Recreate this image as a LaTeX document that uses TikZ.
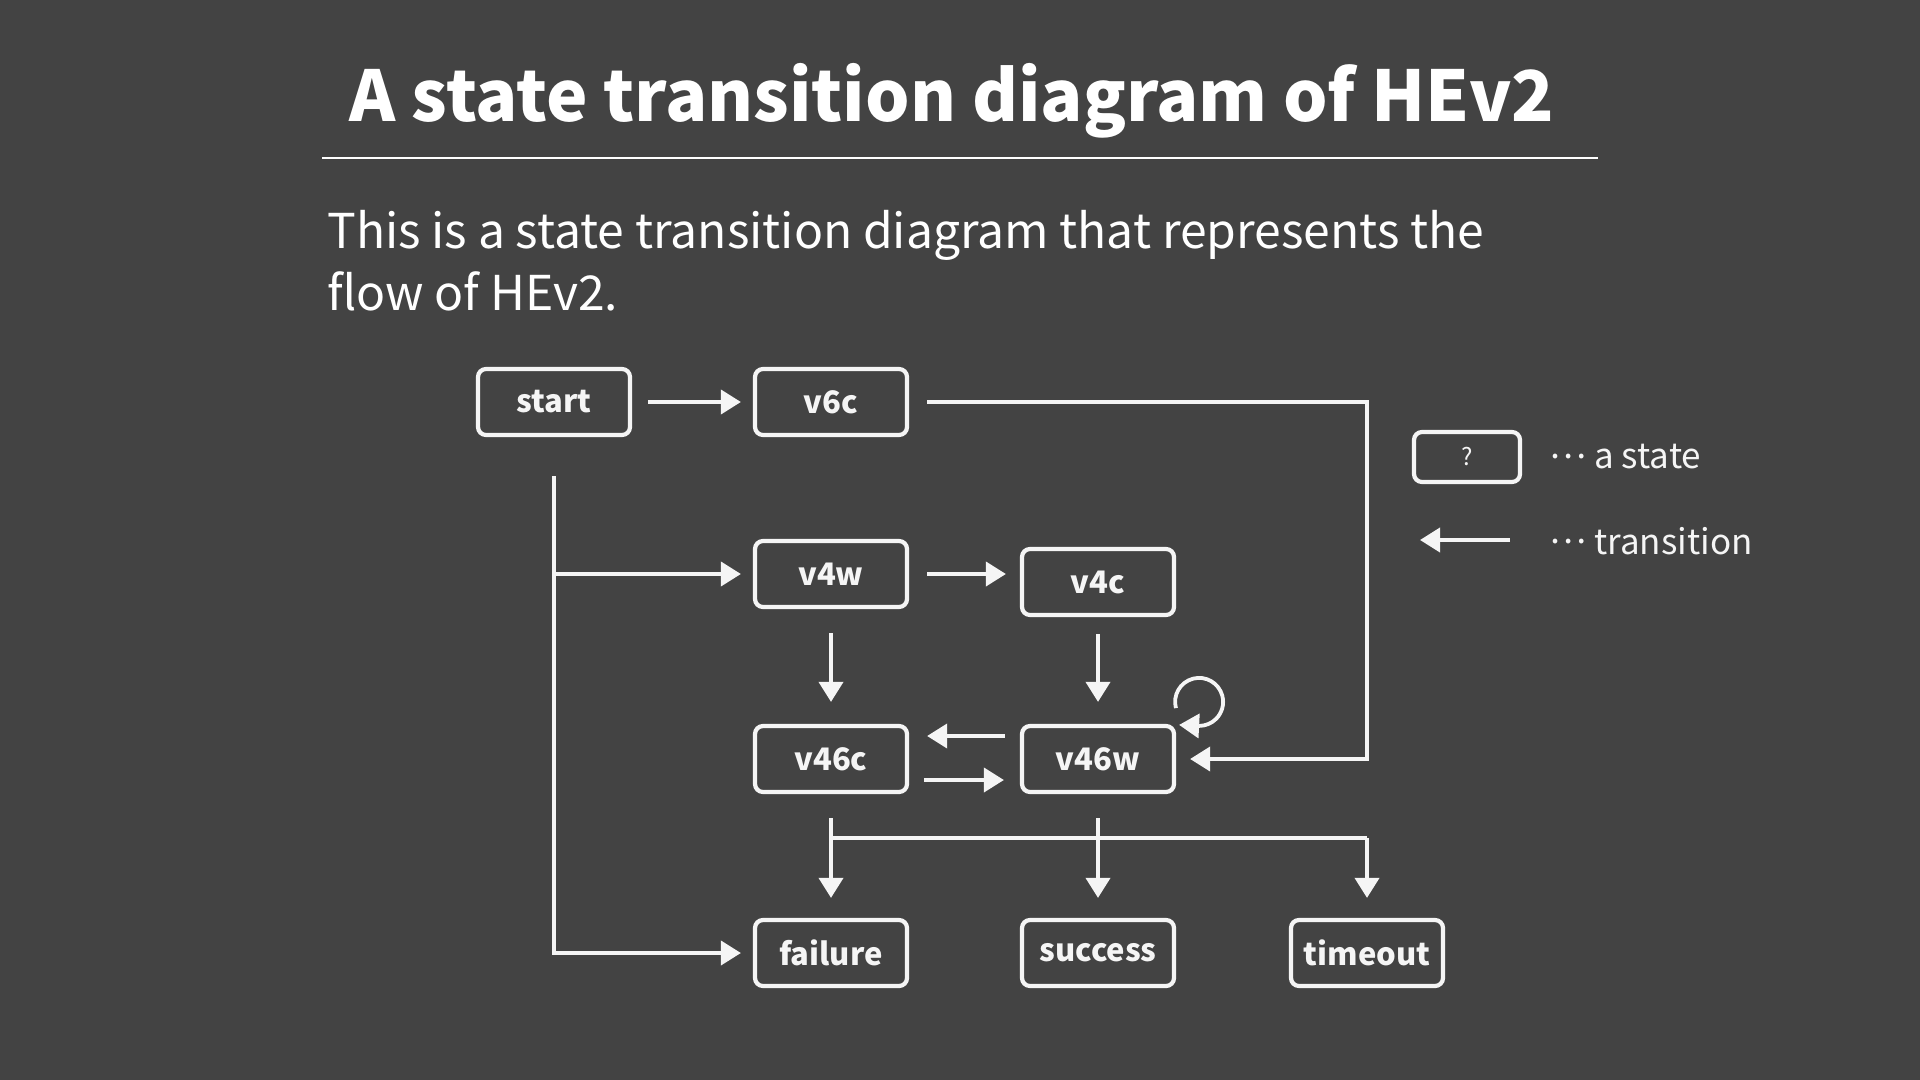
\documentclass[tikz,border=0pt]{standalone}
\usepackage{fontspec}
\setmainfont{Noto Sans CJK JP}
\usetikzlibrary{arrows.meta}
\definecolor{bg}{RGB}{67,67,67}
\definecolor{chalk}{RGB}{245,245,245}
\newcommand{\middots}{\raisebox{0.3em}{…}}
\begin{document}
\begin{tikzpicture}[x=0.5pt,y=-0.5pt,
  statebox/.style={draw=chalk, line width=2.1pt, rounded corners=4pt, minimum width=76pt, minimum height=33pt, text=chalk, font=\fontsize{15.5}{18}\selectfont\bfseries, inner sep=0pt},
  conn/.style={draw=chalk, line width=1.9pt},
  arr/.style={conn, -{Triangle[length=10pt,width=12pt]}},
  legtext/.style={text=chalk, anchor=west, font=\fontsize{17.5}{20}\selectfont, inner sep=0pt},
]
\fill[bg] (0,0) rectangle (1920,1080);
\useasboundingbox (0,0) rectangle (1920,1080);

% title and text
\node[text=white, anchor=base, inner sep=0pt, font=\fontsize{35}{40}\selectfont\bfseries] (title) at (952,122) {A state transition diagram of HEv2};
\draw[white, line width=1pt] (322,158) -- (1598,158);
\node[text=white, anchor=base west, inner sep=0pt, font=\fontsize{24}{31}\selectfont] (para1) at (327,249) {This is a state transition diagram that represents the};
\node[text=white, anchor=base west, inner sep=0pt, font=\fontsize{24}{31}\selectfont] (para2) at (327,311) {flow of HEv2.};

% states
\node[statebox] (start) at (554,402) {start};
\node[statebox] (v6c) at (831,402) {v6c};
\node[statebox] (v4w) at (831,574) {v4w};
\node[statebox] (v4c) at (1098,582) {v4c};
\node[statebox] (v46c) at (831,759) {v46c};
\node[statebox] (v46w) at (1098,759) {v46w};
\node[statebox] (failure) at (831,953) {failure};
\node[statebox] (success) at (1098,953) {success};
\node[statebox] (timeout) at (1367,953) {timeout};

% transitions
\draw[arr, shorten <=8pt, shorten >=6pt] (start.east) -- (v6c.west);
\draw[arr, shorten <=9pt, shorten >=7pt] (v6c.east) -- (v6c.east -| timeout) |- (v46w.east);
\coordinate (jv) at ([yshift=-19.5pt]start.south);
\draw[arr, shorten >=6pt] (jv) |- (failure.west);
\draw[arr, shorten >=6pt] (jv |- v4w.west) -- (v4w.west);
\draw[arr, shorten <=9pt, shorten >=7pt] (v4w.east) -- (v4w.east -| v4c.west);
\draw[arr, shorten <=12pt, shorten >=11pt] (v4w.south) -- (v46c.north);
\draw[arr, shorten <=8.5pt, shorten >=11pt] (v4c.south) -- (v46w.north);
\draw[arr, shorten <=7.5pt, shorten >=9pt] ([yshift=11.5pt]v46w.west) -- ([yshift=11.5pt]v46c.east);
\draw[arr, shorten <=7.5pt, shorten >=8pt] ([yshift=-10.5pt]v46c.east) -- ([yshift=-10.5pt]v46w.west);
\coordinate (lc) at ([shift={(11.5pt,11pt)}]v46w.north east);
\draw[arr] ([shift={(195:12pt)}]lc) arc[start angle=195, end angle=-90, radius=12pt] -- ++(-10pt,0.5pt);
\draw[arr, shorten <=12pt, shorten >=10pt] (v46c.south) -- (failure.north);
\draw[arr, shorten <=12pt, shorten >=10pt] (v46w.south) -- (success.north);
\coordinate (bus) at ([yshift=-22pt]v46c.south);
\draw[conn] (bus) -- (bus -| timeout);
\draw[arr, shorten >=10pt] (bus -| timeout) -- (timeout.north);

% legend
\node[statebox, minimum width=53pt, minimum height=25pt, font=\fontsize{12}{14}\selectfont] (legbox) at (1467,457) {?};
\node[legtext] (leg1) at (1549,457) {\middots\ a state};
\coordinate (la1) at (1510,540);
\coordinate (la2) at (1420,540);
\draw[arr] (la1) -- (la2);
\node[legtext] (leg2) at (1549,541) {\middots\ transition};
\end{tikzpicture}
\end{document}
